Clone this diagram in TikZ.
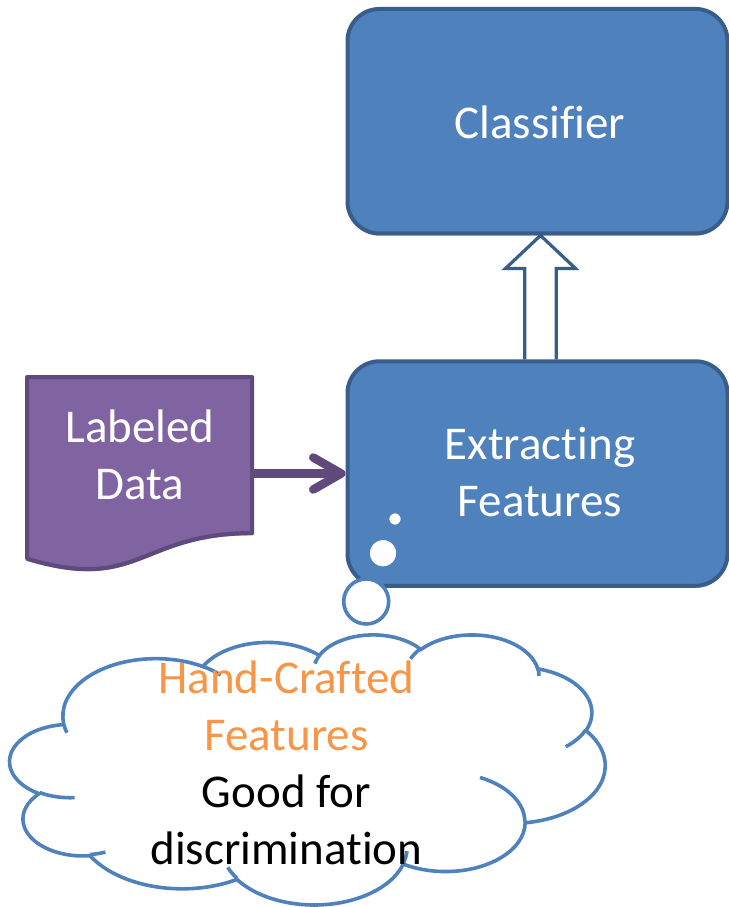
\documentclass[tikz,border=0pt]{standalone}
\usepackage{fontspec}
\setmainfont{Carlito}[Ligatures=NoCommon]
\usetikzlibrary{calc,arrows.meta,backgrounds,shadows}

\definecolor{boxfill}{HTML}{4F81BD}
\definecolor{boxline}{HTML}{385D8A}
\definecolor{docfill}{HTML}{8064A2}
\definecolor{docline}{HTML}{5E4A7C}
\definecolor{feedarrow}{HTML}{604A7B}
\definecolor{hcorange}{HTML}{F79646}

% Cloud outline: elliptic arcs of a 43.2 x 43.2 cloud shape (thousands of
% units), stretched onto a 595 x 270 box whose top left corner is (\cloudX,\cloudY).
\def\cloudX{10}\def\cloudY{634}
\def\cloudSX{13.7731}\def\cloudSY{6.25}
\def\cloudpath{}\def\cloudticks{}
\newcommand\cloudpt[2]{%
  \pgfmathsetmacro\cpX{\cloudX+#1*\cloudSX}%
  \pgfmathsetmacro\cpY{\cloudY+#2*\cloudSY}}
% wR hR start sweep (visual angles in the square shape, degrees) -> \arcspec
\newcommand\cloudarcspec[4]{%
  \pgfmathsetmacro\cA{#1*\cloudSX}%
  \pgfmathsetmacro\cB{#2*\cloudSY}%
  \pgfmathsetmacro\tOne{atan2(#1*sin(#3),#2*cos(#3))}%
  \pgfmathsetmacro\tTwo{atan2(#1*sin(#3+#4),#2*cos(#3+#4))}%
  \pgfmathsetmacro\tTwo{\tOne+mod(\tTwo-\tOne+720,360)}%
  \edef\arcspec{arc[start angle=\tOne,end angle=\tTwo,x radius=\cA,y radius=\cB]}}
\newcommand\addarc[4]{\cloudarcspec{#1}{#2}{#3}{#4}%
  \xdef\cloudpath{\cloudpath\space\arcspec}}
\newcommand\addtick[6]{\cloudpt{#1}{#2}\cloudarcspec{#3}{#4}{#5}{#6}%
  \xdef\cloudticks{\cloudticks\space(\cpX,\cpY)\space\arcspec}}

\begin{document}
\begin{tikzpicture}[x=0.5pt,y=-0.5pt,
  softshadow/.style={drop shadow={shadow xshift=0pt, shadow yshift=-1.1pt,
    opacity=0.35, fill=black}},
  bluebox/.style={draw=boxline, fill=boxfill, line width=2pt,
    rounded corners=16pt, minimum width=190pt, minimum height=112.25pt,
    inner sep=0pt, softshadow},
  boxtext/.style={text=white, font=\fontsize{23.5}{28.5}\selectfont,
    align=center, inner sep=0pt, anchor=north},
  cloudtext/.style={text=black, font=\fontsize{23.5}{28.5}\selectfont,
    align=center, inner sep=0pt, anchor=north},
  docshape/.style={draw=docline, fill=docfill, line width=2.1pt,
    line join=round, softshadow},
  cloudline/.style={draw=boxfill, line width=1.8pt},
  bubble/.style={circle, draw=boxfill, fill=white, line width=1.8pt,
    inner sep=0pt},
  hollowarrow/.style={draw=boxline, fill=white, line width=1.6pt,
    line join=miter},
  feed/.style={draw=feedarrow, line width=4.25pt, line cap=round,
    -{Straight Barb[length=14pt, width=16pt, line cap=round,
      line join=round]}},
]
\useasboundingbox (0,0) rectangle (729,907);

% process boxes
\node[bluebox] (cls) at (537.5,121.2) {};
\node[bluebox] (ext) at (537.5,473.5) {};
\node[boxtext] (clslbl) at ($(cls.center)+(2.5,-23.1)$) {\strut Classifier};
\node[boxtext] (extlbl) at ($(ext.center)+(2.5,-54.4)$)
  {\strut Extracting\\\strut Features};

% document shape with wavy lower edge
\node[inner sep=0pt, minimum width=112.5pt, minimum height=97.25pt]
  (doc) at (140,474.75) {};
\draw[docshape, shift={(doc.north west)}]
  (0,0) -- (225,0) -- (225,156)
  .. controls (112.5,156) and (112.5,215.4) .. (0,181.6) -- cycle;
\node[boxtext] (doclbl) at ($(doc.north)+(0,24.6)$)
  {\strut Labeled\\\strut Data};

% connectors, kept under the shapes they touch
\coordinate (upbase) at ($(ext.north)+(3,0)$);
\coordinate (uptip) at ($(cls.south)+(3,0)$);
\begin{scope}[on background layer]
  \fill[white] (0,0) rectangle (729,907);
  \draw[hollowarrow]
    ($(upbase)+(-15.8,0)$) -- ($(uptip)+(-15.8,33)$) -- ($(uptip)+(-35,33)$)
    -- (uptip) -- ($(uptip)+(35,33)$) -- ($(uptip)+(15.8,33)$)
    -- ($(upbase)+(15.8,0)$);
  \draw[feed] (doc.east |- ext.west) -- (ext.west);
\end{scope}

% thought cloud: outline arcs
\cloudpt{3.900}{14.370}\let\sX\cpX\let\sY\cpY
\addarc{6.753}{9.190}{-190.48748}{123.78053}
\addarc{5.333}{7.267}{-144.10238}{89.94523}
\addarc{4.365}{5.945}{-145.80792}{99.72302}
\addarc{4.857}{6.595}{-130.98607}{117.24173}
\addarc{5.333}{7.273}{-78.70888}{109.02692}
\addarc{6.775}{9.220}{-46.26725}{130.26900}
\addarc{5.785}{7.867}{0.62502}{114.03333}
\addarc{6.752}{9.215}{22.45160}{115.17255}
\addarc{7.720}{10.543}{66.24263}{75.71102}
\addarc{4.360}{5.918}{-274.94208}{146.73557}
\addarc{4.345}{5.945}{-246.82850}{152.51885}
% inner fold lines of the cloud
\addtick{4.693}{26.177}{4.345}{5.945}{86.74200}{26.42950}
\addtick{6.928}{34.899}{4.360}{5.918}{73.61047}{11.44747}
\addtick{16.478}{39.090}{6.752}{9.215}{137.62415}{14.08110}
\addtick{28.827}{34.751}{6.752}{9.215}{6.45327}{15.99835}
\addtick{34.129}{22.954}{5.785}{7.867}{-70.29235}{70.91737}
\addtick{41.798}{15.354}{5.333}{7.273}{30.31803}{27.75150}
\addtick{38.324}{5.426}{4.857}{6.595}{-13.74433}{14.85890}
\addtick{29.078}{3.952}{4.857}{6.595}{-149.18145}{18.19537}
\addtick{22.141}{4.720}{4.365}{5.945}{-163.49427}{17.68635}
\addtick{14.000}{5.192}{6.753}{9.190}{-66.70695}{12.31935}
\addtick{4.127}{15.789}{6.753}{9.190}{157.65435}{11.85817}
\edef\cloudcmd{\noexpand\draw[cloudline] (\sX,\sY) \cloudpath;}\cloudcmd
\edef\tickcmd{\noexpand\draw[cloudline] \cloudticks;}\tickcmd

% thought bubbles leading up to the box
\node[bubble, minimum size=22.5pt] (b3) at (366.2,601.5) {};
\node[bubble, minimum size=15pt] (b2) at (383.05,553.2) {};
\node[bubble, minimum size=7.5pt] (b1) at (395,519) {};

\node[cloudtext] (cloudlbl) at (286.5,653.1)
  {\strut\textcolor{hcorange}{Hand-Crafted}\\
   \strut\textcolor{hcorange}{Features}\\
   \strut Good for\\
   \strut discrimination};
\end{tikzpicture}
\end{document}
